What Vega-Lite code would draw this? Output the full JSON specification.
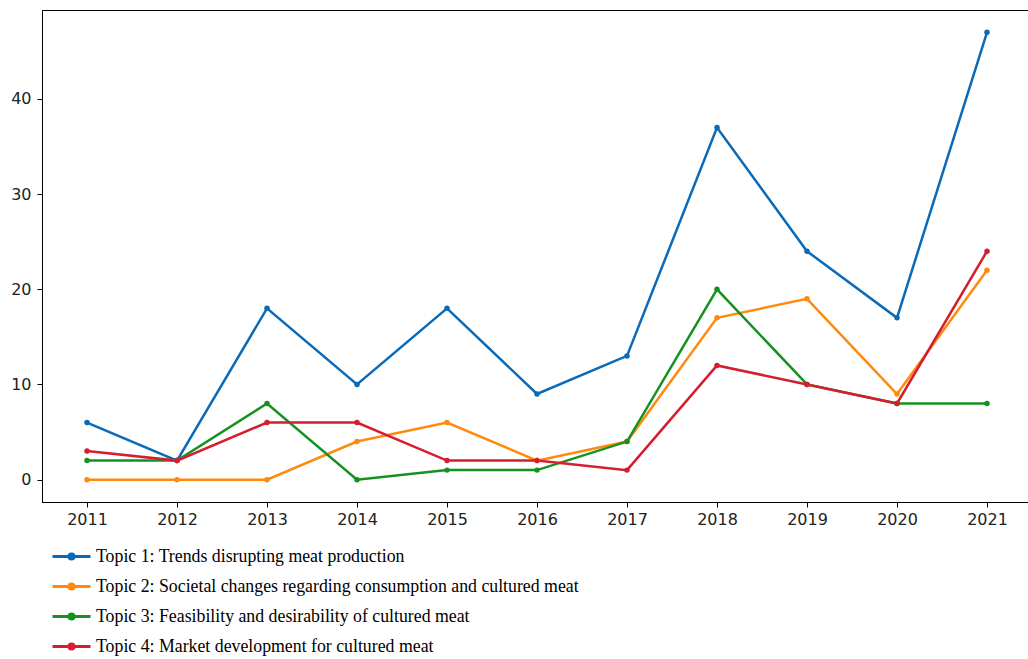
{
  "$schema": "https://vega.github.io/schema/vega-lite/v6.json",
  "autosize": "none",
  "width": 990,
  "height": 492,
  "padding": {"left": 42, "top": 10, "right": 0, "bottom": 157},
  "background": "white",
  "config": {
    "view": {"stroke": "#000", "strokeWidth": 1},
    "axis": {"grid": false, "domainColor": "#000", "tickColor": "#000", "labelColor": "#222", "labelFont": "DejaVu Sans", "labelFontSize": 16, "tickSize": 5, "domainWidth": 1, "title": null}
  },
  "data": {"values": [
    {"year": 2011, "topic": "Topic 1: Trends disrupting meat production", "n": 6},
    {"year": 2012, "topic": "Topic 1: Trends disrupting meat production", "n": 2},
    {"year": 2013, "topic": "Topic 1: Trends disrupting meat production", "n": 18},
    {"year": 2014, "topic": "Topic 1: Trends disrupting meat production", "n": 10},
    {"year": 2015, "topic": "Topic 1: Trends disrupting meat production", "n": 18},
    {"year": 2016, "topic": "Topic 1: Trends disrupting meat production", "n": 9},
    {"year": 2017, "topic": "Topic 1: Trends disrupting meat production", "n": 13},
    {"year": 2018, "topic": "Topic 1: Trends disrupting meat production", "n": 37},
    {"year": 2019, "topic": "Topic 1: Trends disrupting meat production", "n": 24},
    {"year": 2020, "topic": "Topic 1: Trends disrupting meat production", "n": 17},
    {"year": 2021, "topic": "Topic 1: Trends disrupting meat production", "n": 47},
    {"year": 2011, "topic": "Topic 2: Societal changes regarding consumption and cultured meat", "n": 0},
    {"year": 2012, "topic": "Topic 2: Societal changes regarding consumption and cultured meat", "n": 0},
    {"year": 2013, "topic": "Topic 2: Societal changes regarding consumption and cultured meat", "n": 0},
    {"year": 2014, "topic": "Topic 2: Societal changes regarding consumption and cultured meat", "n": 4},
    {"year": 2015, "topic": "Topic 2: Societal changes regarding consumption and cultured meat", "n": 6},
    {"year": 2016, "topic": "Topic 2: Societal changes regarding consumption and cultured meat", "n": 2},
    {"year": 2017, "topic": "Topic 2: Societal changes regarding consumption and cultured meat", "n": 4},
    {"year": 2018, "topic": "Topic 2: Societal changes regarding consumption and cultured meat", "n": 17},
    {"year": 2019, "topic": "Topic 2: Societal changes regarding consumption and cultured meat", "n": 19},
    {"year": 2020, "topic": "Topic 2: Societal changes regarding consumption and cultured meat", "n": 9},
    {"year": 2021, "topic": "Topic 2: Societal changes regarding consumption and cultured meat", "n": 22},
    {"year": 2011, "topic": "Topic 3: Feasibility and desirability of cultured meat", "n": 2},
    {"year": 2012, "topic": "Topic 3: Feasibility and desirability of cultured meat", "n": 2},
    {"year": 2013, "topic": "Topic 3: Feasibility and desirability of cultured meat", "n": 8},
    {"year": 2014, "topic": "Topic 3: Feasibility and desirability of cultured meat", "n": 0},
    {"year": 2015, "topic": "Topic 3: Feasibility and desirability of cultured meat", "n": 1},
    {"year": 2016, "topic": "Topic 3: Feasibility and desirability of cultured meat", "n": 1},
    {"year": 2017, "topic": "Topic 3: Feasibility and desirability of cultured meat", "n": 4},
    {"year": 2018, "topic": "Topic 3: Feasibility and desirability of cultured meat", "n": 20},
    {"year": 2019, "topic": "Topic 3: Feasibility and desirability of cultured meat", "n": 10},
    {"year": 2020, "topic": "Topic 3: Feasibility and desirability of cultured meat", "n": 8},
    {"year": 2021, "topic": "Topic 3: Feasibility and desirability of cultured meat", "n": 8},
    {"year": 2011, "topic": "Topic 4: Market development for cultured meat", "n": 3},
    {"year": 2012, "topic": "Topic 4: Market development for cultured meat", "n": 2},
    {"year": 2013, "topic": "Topic 4: Market development for cultured meat", "n": 6},
    {"year": 2014, "topic": "Topic 4: Market development for cultured meat", "n": 6},
    {"year": 2015, "topic": "Topic 4: Market development for cultured meat", "n": 2},
    {"year": 2016, "topic": "Topic 4: Market development for cultured meat", "n": 2},
    {"year": 2017, "topic": "Topic 4: Market development for cultured meat", "n": 1},
    {"year": 2018, "topic": "Topic 4: Market development for cultured meat", "n": 12},
    {"year": 2019, "topic": "Topic 4: Market development for cultured meat", "n": 10},
    {"year": 2020, "topic": "Topic 4: Market development for cultured meat", "n": 8},
    {"year": 2021, "topic": "Topic 4: Market development for cultured meat", "n": 24}
  ]},
  "mark": {"type": "line", "strokeWidth": 2.5, "point": {"size": 30, "filled": true, "opacity": 1}},
  "encoding": {
    "x": {"field": "year", "type": "quantitative", "scale": {"domain": [2010.5, 2021.5], "nice": false, "zero": false}, "axis": {"values": [2011, 2012, 2013, 2014, 2015, 2016, 2017, 2018, 2019, 2020, 2021], "format": "d", "labelPadding": 4}},
    "y": {"field": "n", "type": "quantitative", "scale": {"domain": [-2.35, 49.35], "nice": false, "zero": false}, "axis": {"values": [0, 10, 20, 30, 40], "labelPadding": 6}},
    "color": {
      "field": "topic", "type": "nominal",
      "scale": {"range": ["#0a6ab8", "#ff8a0e", "#14911e", "#d41e2e"]},
      "legend": {
        "title": null, "orient": "none", "legendX": 9, "legendY": 526, "direction": "vertical",
        "labelFont": "Liberation Serif", "labelFontSize": 17.8, "labelColor": "#000", "labelLimit": 800,
        "rowPadding": -0.5, "labelOffset": 4,
        "symbolType": "M-1,0L1,0M-0.13,0A0.13,0.13 0 1,0 0.13,0A0.13,0.13 0 1,0 -0.13,0",
        "symbolSize": 1444, "symbolStrokeWidth": 3
      }
    }
  }
}
